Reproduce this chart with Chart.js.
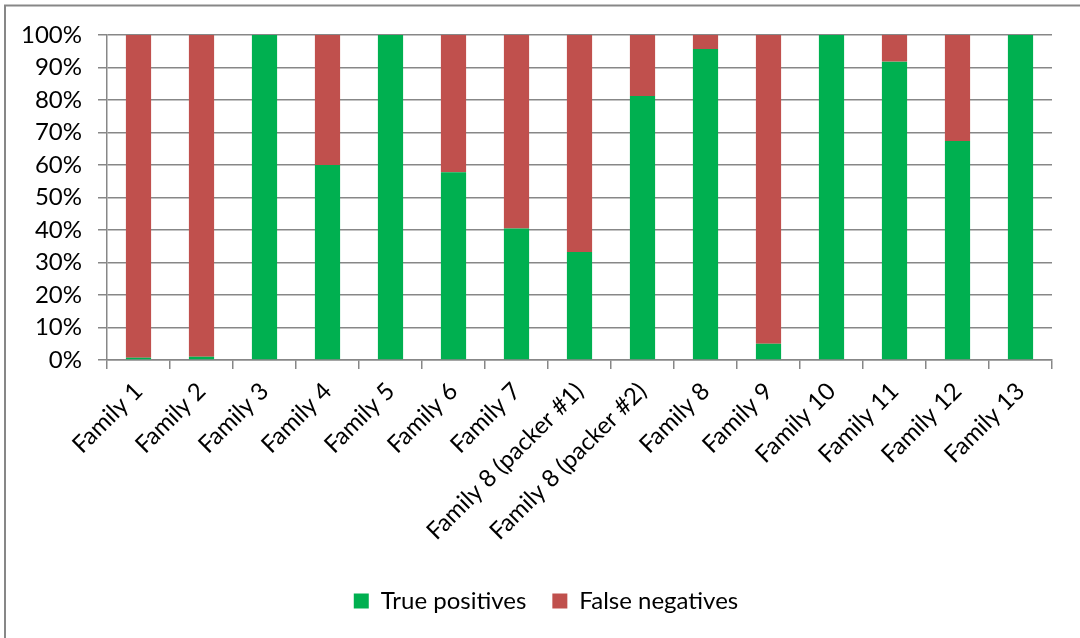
<!DOCTYPE html>
<html><head><meta charset="utf-8">
<script src="https://cdn.jsdelivr.net/npm/chart.js@4/dist/chart.umd.min.js"></script>
<style>html,body{margin:0;padding:0;background:#fff}#wrap{width:1080px;height:638px;position:relative}</style>
</head><body><div id="wrap"><canvas id="c" width="1080" height="638"></canvas></div>
<script>
const categories = ["Family 1","Family 2","Family 3","Family 4","Family 5","Family 6","Family 7","Family 8 (packer #1)","Family 8 (packer #2)","Family 8","Family 9","Family 10","Family 11","Family 12","Family 13"];
const truePositives  = [0.7, 1.0, 100, 60, 100, 57.8, 40.5, 33.2, 81.2, 95.7, 5.0, 100, 91.8, 67.4, 100];
const falseNegatives = [99.3, 99.0, 0, 40, 0, 42.2, 59.5, 66.8, 18.8, 4.3, 95.0, 0, 8.2, 32.6, 0];
const seriesNames = ["True positives","False negatives"];
const seriesColors = ["#00B050","#C0504D"];
const yTickValues = [0,10,20,30,40,50,60,70,80,90,100];
const yTickLabels = ["0%","10%","20%","30%","40%","50%","60%","70%","80%","90%","100%"];

const FONT = "Lato, 'Open Sans', sans-serif";
const GRID = "#878787";

const framePlugin = {
  id: 'frame',
  afterLayout(chart) {
    if (chart.legend) { chart.legend.left = 40; }
  },
  afterDraw(chart) {
    const ctx = chart.ctx;
    ctx.save();
    ctx.strokeStyle = GRID;
    ctx.lineWidth = 2;
    ctx.beginPath();
    ctx.moveTo(5, 5); ctx.lineTo(5, 640);
    ctx.moveTo(4, 5.5); ctx.lineTo(1082, 5.5);
    ctx.stroke();
    ctx.restore();
  }
};

new Chart(document.getElementById('c'), {
  type: 'bar',
  data: {
    labels: categories,
    datasets: [
      { label: seriesNames[0], data: truePositives, backgroundColor: seriesColors[0], borderWidth: 0 },
      { label: seriesNames[1], data: falseNegatives, backgroundColor: seriesColors[1], borderWidth: 0 }
    ]
  },
  options: {
    responsive: false,
    animation: false,
    devicePixelRatio: 1,
    layout: { padding: { top: 35, right: 28, left: 0, bottom: 15 } },
    datasets: { bar: { categoryPercentage: 1.0, barPercentage: 0.4 } },
    plugins: {
      tooltip: { enabled: false },
      legend: {
        position: 'bottom',
        labels: {
          color: '#000',
          font: { family: FONT, size: 24 },
          boxWidth: 15, boxHeight: 15,
          padding: 26
        }
      }
    },
    scales: {
      x: {
        stacked: true,
        offset: true,
        grid: { display: true, offset: true, drawOnChartArea: false, drawTicks: true, tickLength: 9, color: GRID, lineWidth: 1.5 },
        border: { display: true, color: GRID, width: 1.5 },
        ticks: { color: '#000', font: { family: FONT, size: 24 }, minRotation: 45, maxRotation: 45, autoSkip: false, padding: 8 },
        afterFit(scale) { scale.height = 203; }
      },
      y: {
        stacked: true,
        min: 0, max: 100,
        afterBuildTicks(scale) { scale.ticks = yTickValues.map(v => ({ value: v })); },
        grid: { color: GRID, lineWidth: 1.5, drawTicks: true, tickLength: 9 },
        border: { display: true, color: GRID, width: 1.5 },
        ticks: {
          color: '#000', font: { family: FONT, size: 24 }, padding: 16,
          callback(v) { const i = yTickValues.indexOf(v); return i >= 0 ? yTickLabels[i] : ''; }
        },
        afterFit(scale) { scale.width = 107; }
      }
    }
  },
  plugins: [framePlugin]
});
</script></body></html>
